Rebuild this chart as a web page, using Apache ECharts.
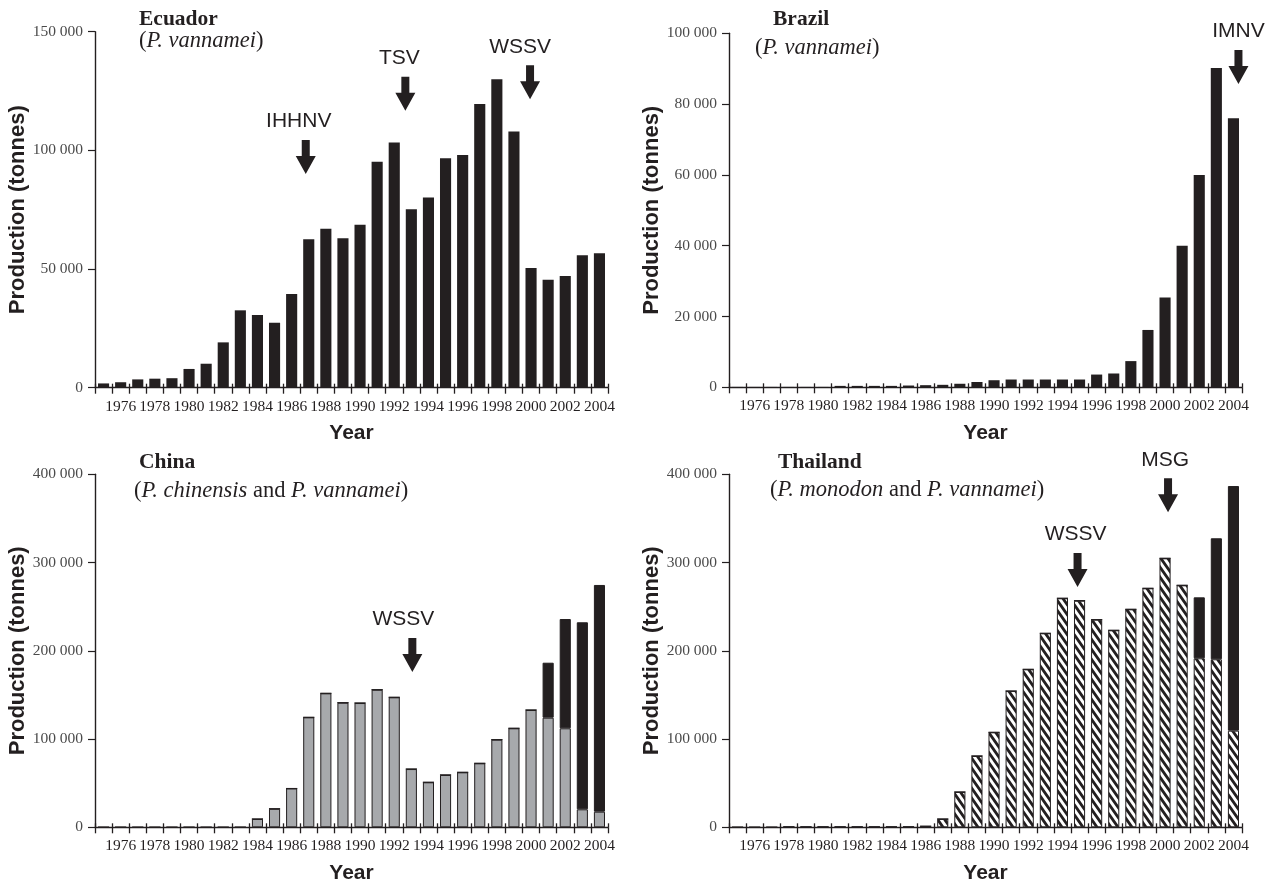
<!DOCTYPE html>
<html><head><meta charset="utf-8">
<script src="https://cdn.jsdelivr.net/npm/echarts@6/dist/echarts.min.js"></script>
<style>html,body{margin:0;padding:0;background:#fff}#c{width:1274px;height:882px}</style>
</head><body><div id="c"></div>
<script>
// ---- data ----
const years = ['1975','1976','1977','1978','1979','1980','1981','1982','1983','1984','1985','1986','1987','1988','1989','1990','1991','1992','1993','1994','1995','1996','1997','1998','1999','2000','2001','2002','2003','2004'];
const yearTickLabels = ['1976','1978','1980','1982','1984','1986','1988','1990','1992','1994','1996','1998','2000','2002','2004'];

const ecuadorVannamei = [1800,2300,3500,3800,4000,7900,10100,19100,32600,30600,27400,39500,62500,67000,63000,68700,95200,103300,75200,80100,96700,98000,119500,130000,107900,50400,45500,47100,55800,56600];
const brazilVannamei = [100,100,100,100,100,100,400,400,400,400,500,600,700,1000,1500,2000,2200,2200,2200,2200,2200,3600,3900,7400,16200,25400,40000,60000,90200,76000];
const chinaChinensis = [0,0,0,0,0,0,0,0,0,9400,21000,44000,124600,151800,141200,140800,155900,147300,66000,51000,59300,62300,72500,99300,112200,132900,124200,112200,20400,17700];
const chinaVannamei = [0,0,0,0,0,0,0,0,0,0,0,0,0,0,0,0,0,0,0,0,0,0,0,0,0,0,62300,123800,211900,256900];
const thailandMonodon = [0,0,0,400,400,400,400,400,400,400,400,1200,9400,40000,80800,107600,154400,179000,219800,259500,256800,235300,223200,247000,270800,304800,274200,191500,190400,109500];
const thailandVannamei = [0,0,0,0,0,0,0,0,0,0,0,0,0,0,0,0,0,0,0,0,0,0,0,0,0,0,0,69100,137100,277200];

const ecuadorTicks = [0,50000,100000,150000];
const brazilTicks = [0,20000,40000,60000,80000,100000];
const chinaTicks = [0,100000,200000,300000,400000];
const thailandTicks = [0,100000,200000,300000,400000];

// annotations: [label, year, arrow tip value]
const ecuadorEvents = [['IHHNV','1987',90000],['TSV','1993',116700],['WSSV','2000',121500]];
const brazilEvents = [['IMNV','2004',85700]];
const chinaEvents = [['WSSV','1993',176000]];
const thailandEvents = [['WSSV','1995',272300],['MSG','2000',357000]];

// ---- style ----
const INK = '#231f20';
const SERIF = 'Liberation Serif';
const SANS = 'Liberation Sans';
const ARROW = 'path://M6,0 L14,0 L14,16 L20,16 L10,34 L0,16 L6,16 Z';

function hatch(){
  const c = document.createElement('canvas'); c.width = 7; c.height = 10;
  const g = c.getContext('2d');
  g.fillStyle = '#fff'; g.fillRect(0,0,7,10);
  g.strokeStyle = INK; g.lineWidth = 2.8; g.beginPath();
  for (const dx of [-7,0,7]) { g.moveTo(dx-0.7,-1); g.lineTo(dx+7.7,11); }
  g.stroke();
  return c;
}
const HATCH = { image: hatch(), repeat: 'repeat' };

function fmt(v){ return String(v).replace(/\B(?=(\d{3})+(?!\d))/g, ' '); }

const option = { animation:false, backgroundColor:'#fff', title:[], grid:[], xAxis:[], yAxis:[], series:[] };

function addPanel(idx, p){
  option.grid.push(Object.assign({ containLabel:false, outerBoundsMode:'none' }, p.grid));
  option.xAxis.push({
    type:'category', gridIndex:idx, data:years, position:'bottom',
    boundaryGap:true,
    axisLine:{ show:true, lineStyle:{ color:INK, width:1.4 } },
    axisTick:{ show:true, interval:0, length:6, lineStyle:{ color:INK, width:1.3 } },
    axisLabel:{ show:true, interval:0, margin:11, fontFamily:SERIF, fontSize:15.5, color:INK,
      formatter: v => yearTickLabels.indexOf(v) >= 0 ? v : '' , hideOverlap:false},
    name:'Year', nameLocation:'middle', nameGap:35,
    nameTextStyle:{ fontFamily:SANS, fontWeight:'bold', fontSize:21, color:INK },
    splitLine:{ show:false }
  });
  option.xAxis.push({
    type:'category', gridIndex:idx, data:years, position:'bottom', offset:0,
    boundaryGap:true,
    axisLine:{ show:false }, axisLabel:{ show:false },
    axisTick:{ show:true, inside:true, interval:0, length:4, lineStyle:{ color:INK, width:1.3 } },
    splitLine:{ show:false }
  });
  const ticks = p.ticks;
  option.yAxis.push({
    type:'value', gridIndex:idx, min:ticks[0], max:ticks[ticks.length-1], interval:ticks[1]-ticks[0],
    axisLine:{ show:true, lineStyle:{ color:INK, width:1.4 } },
    axisTick:{ show:true, length:7, lineStyle:{ color:INK, width:1.2 } },
    axisLabel:{ margin:12, fontFamily:SERIF, fontSize:15.5, color:'#4a4a4a', formatter: fmt },
    splitLine:{ show:false },
    name:'Production (tonnes)', nameLocation:'middle', nameGap:62,
    nameTextStyle:{ fontFamily:SANS, fontWeight:'bold', fontSize:22, color:INK }
  });
  const mp = {
    animation:false,
    data: p.events.map(e => ({
      coord:[e[1], e[2]], symbol:ARROW, symbolSize:[20,34], symbolOffset:[p.arrowDx[e[0]+e[1]]||0,'-50%'],
      itemStyle:{ color:INK },
      label:{ show:true, position:'top', distance:8, offset:[p.textDx[e[0]+e[1]]||0,0], formatter:e[0],
        fontFamily:SANS, fontSize:21, color:INK }
    }))
  };
  p.series.forEach((s, k) => {
    option.series.push({
      type:'bar', xAxisIndex:idx*2, yAxisIndex:idx, data:s.data, stack:'s'+idx,
      barWidth:'65%', itemStyle:s.style, markPoint: k===0 ? mp : undefined, silent:true
    });
  });
  option.title.push({ left:p.title[0], top:p.title[1], text:p.name, padding:0,
    textStyle:{ fontFamily:SERIF, fontWeight:'bold', fontSize:21.5, color:INK } });
  option.title.push({ left:p.sub[0], top:p.sub[1], text:p.subText, padding:0,
    textStyle:{ fontFamily:SERIF, fontWeight:'normal', fontSize:22.5, color:INK,
      rich:{ i:{ fontFamily:SERIF, fontStyle:'italic', fontSize:22.5, color:INK } } } });
}

const black = { color:INK };
addPanel(0, {
  grid:{ left:95, top:31.7, width:513, height:356 }, ticks:ecuadorTicks, events:ecuadorEvents,
  arrowDx:{ 'IHHNV1987':-3, 'TSV1993':-6, 'WSSV2000':-1 }, textDx:{ 'IHHNV1987':-7, 'TSV1993':-6, 'WSSV2000':-10 },
  series:[{ data:ecuadorVannamei, style:black }],
  name:'Ecuador', subText:'({i|P. vannamei})', title:[139,8.5], sub:[139,30]
});
addPanel(1, {
  grid:{ left:729, top:33.3, width:513, height:354 }, ticks:brazilTicks, events:brazilEvents,
  arrowDx:{ 'IMNV2004':5 }, textDx:{ 'IMNV2004':0 },
  series:[{ data:brazilVannamei, style:black }],
  name:'Brazil', subText:'({i|P. vannamei})', title:[773,8.5], sub:[755,37]
});
addPanel(2, {
  grid:{ left:95, top:474.3, width:513, height:353 }, ticks:chinaTicks, events:chinaEvents,
  arrowDx:{ 'WSSV1993':1 }, textDx:{ 'WSSV1993':-9 },
  series:[{ data:chinaChinensis, style:{ color:'#a7a9ac', borderColor:INK, borderWidth:1 } },
          { data:chinaVannamei, style:{ color:INK, borderColor:INK, borderWidth:1 } }],
  name:'China', subText:'({i|P. chinensis} and {i|P. vannamei})', title:[139,451.5], sub:[134,480]
});
addPanel(3, {
  grid:{ left:729, top:474.3, width:513, height:353 }, ticks:thailandTicks, events:thailandEvents,
  arrowDx:{ 'WSSV1995':-2, 'MSG2000':3 }, textDx:{ 'WSSV1995':-2, 'MSG2000':-3 },
  series:[{ data:thailandMonodon, style:{ color:HATCH, borderColor:INK, borderWidth:1 } },
          { data:thailandVannamei, style:{ color:INK, borderColor:INK, borderWidth:1 } }],
  name:'Thailand', subText:'({i|P. monodon} and {i|P. vannamei})', title:[778,451.5], sub:[770,479]
});

const chart = echarts.init(document.getElementById('c'), null, { renderer:'canvas' });
chart.setOption(option);
</script>
</body></html>
